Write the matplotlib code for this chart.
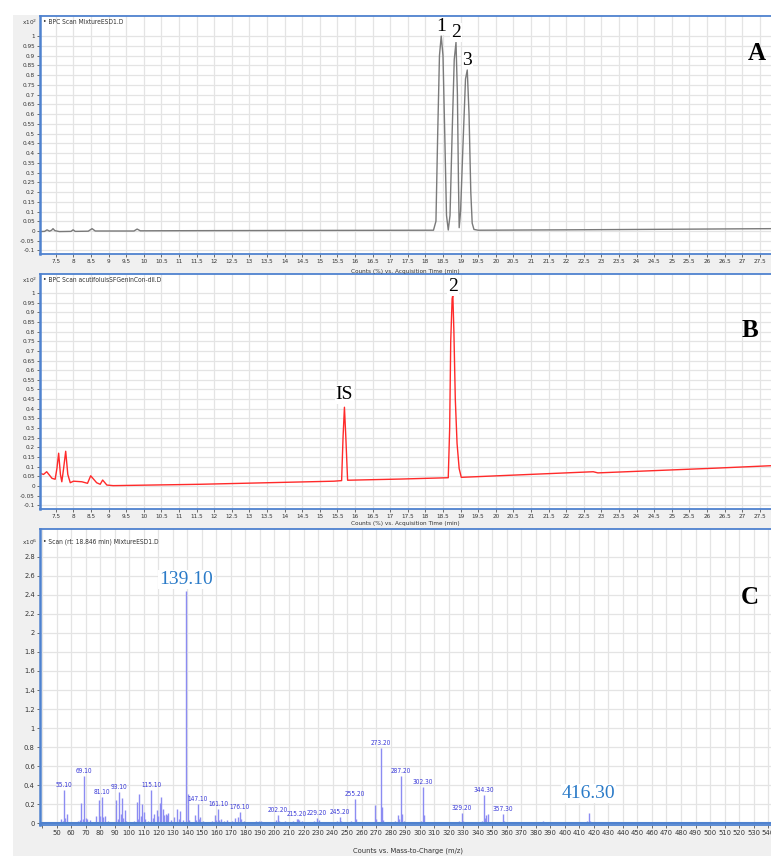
import numpy as np
import matplotlib
matplotlib.use("Agg")
import matplotlib.pyplot as plt
from matplotlib.patches import Rectangle
from matplotlib.ticker import FixedLocator, FuncFormatter

# ---- panel A: BPC of the standard mixture (time in min, counts x10^2 %) ----
a_time = [7.05, 7.18, 7.25, 7.32, 7.38, 7.42, 7.47, 7.6, 7.93, 7.99, 8.05,
          8.42, 8.53, 8.62, 9.2, 9.72, 9.81, 9.9, 12.0, 15.0, 18.1,
          18.23, 18.3, 18.35, 18.4, 18.45, 18.5, 18.55, 18.6, 18.65,
          18.7, 18.76, 18.82, 18.87, 18.91, 18.94, 18.96,
          19.0, 19.07, 19.14, 19.19, 19.24, 19.29, 19.33, 19.38, 19.5,
          22.0, 25.0, 27.8]
a_counts = [-0.003, -0.002, 0.006, -0.001, 0.004, 0.012, 0.002, -0.003, -0.002, 0.006, -0.002,
            -0.001, 0.012, 0.0, 0.0, 0.0, 0.01, 0.001, 0.002, 0.003, 0.004,
            0.004, 0.05, 0.5, 0.9, 1.0, 0.9, 0.5, 0.08, 0.005,
            0.08, 0.5, 0.88, 0.968, 0.7, 0.25, 0.017,
            0.1, 0.45, 0.78, 0.826, 0.6, 0.2, 0.04, 0.008, 0.004,
            0.006, 0.009, 0.012]

# ---- panel B: BPC of the plant extract ----
b_time = [7.05, 7.15, 7.24, 7.39, 7.48, 7.53, 7.58, 7.63, 7.67, 7.72, 7.78, 7.84, 7.91,
          8.0, 8.24, 8.4, 8.49, 8.66, 8.76, 8.83, 8.95, 9.13, 11.6,
          15.4, 15.62, 15.66, 15.7, 15.74, 15.79, 17.28, 18.65, 18.69, 18.72,
          18.76, 18.78, 18.81, 18.85, 18.9, 18.96, 19.02, 22.77, 22.9, 26.18, 27.8]
b_counts = [0.066, 0.06, 0.074, 0.04, 0.035, 0.09, 0.17, 0.06, 0.022, 0.09, 0.18, 0.06, 0.017,
            0.025, 0.022, 0.014, 0.053, 0.017, 0.009, 0.031, 0.005, 0.002, 0.009,
            0.025, 0.028, 0.25, 0.408, 0.25, 0.03, 0.036, 0.043, 0.3, 0.75,
            0.97, 0.99, 0.8, 0.45, 0.22, 0.09, 0.045, 0.074, 0.068, 0.092, 0.105]

# ---- panel C: mass spectrum at rt 18.846 min (m/z, counts x10^6) ----
c_mz = [51, 53, 54, 55.1, 56, 57, 58, 60, 63, 65, 66, 67, 68, 69.1, 70, 71, 73, 77, 78, 79,
        80, 81.1, 82, 83, 85, 89, 91, 92, 93.1, 94, 95, 96, 97, 98, 103, 105, 106, 107, 108,
        109, 110, 111, 113, 115.1, 116, 117, 119, 120, 121, 122, 123, 124, 125, 126, 127,
        129, 131, 133, 134, 135, 137, 139.1, 140.1, 141, 143, 145, 146, 147.1, 148, 149, 151,
        153, 157, 159, 160, 161.1, 162, 163, 165, 167, 171, 173, 175, 176.1, 177, 179, 185,
        187, 189, 191, 197, 201, 202.2, 203, 207, 213, 215.2, 216, 217, 219, 227, 229.2, 231,
        233, 243, 245.2, 246, 253, 255.2, 256, 269, 270, 273.2, 274, 275, 283, 285, 286,
        287.2, 288, 289, 301, 302.3, 303, 311, 313, 317, 327, 329.2, 330, 343, 344.3, 345,
        346, 347, 355, 357.3, 358, 369, 373, 385, 387, 401, 403, 405, 415, 416.3, 417, 428, 531]
c_counts = [0.02, 0.05, 0.03, 0.35, 0.06, 0.1, 0.02, 0.02, 0.02, 0.03, 0.04, 0.22, 0.05, 0.5,
            0.06, 0.05, 0.04, 0.08, 0.02, 0.25, 0.08, 0.28, 0.07, 0.08, 0.03, 0.02, 0.25, 0.05,
            0.33, 0.1, 0.27, 0.06, 0.14, 0.03, 0.03, 0.23, 0.05, 0.31, 0.08, 0.2, 0.12, 0.05,
            0.03, 0.35, 0.06, 0.1, 0.14, 0.08, 0.22, 0.28, 0.15, 0.09, 0.1, 0.09, 0.11, 0.04,
            0.07, 0.15, 0.05, 0.13, 0.04, 2.44, 0.31, 0.04, 0.02, 0.09, 0.04, 0.2, 0.05, 0.07,
            0.03, 0.02, 0.03, 0.09, 0.04, 0.15, 0.04, 0.05, 0.03, 0.04, 0.03, 0.06, 0.07, 0.12,
            0.05, 0.03, 0.02, 0.03, 0.03, 0.03, 0.02, 0.04, 0.09, 0.03, 0.03, 0.03, 0.05, 0.05,
            0.04, 0.03, 0.03, 0.06, 0.04, 0.02, 0.03, 0.07, 0.03, 0.03, 0.26, 0.05, 0.19, 0.05,
            0.79, 0.17, 0.04, 0.03, 0.09, 0.05, 0.5, 0.1, 0.03, 0.03, 0.38, 0.09, 0.02, 0.02,
            0.02, 0.03, 0.11, 0.03, 0.03, 0.3, 0.06, 0.09, 0.1, 0.02, 0.1, 0.03, 0.02, 0.01,
            0.03, 0.02, 0.02, 0.02, 0.02, 0.03, 0.11, 0.03, 0.02, 0.02]
c_small_labels = [55.1, 69.1, 81.1, 93.1, 115.1, 147.1, 161.1, 176.1, 202.2, 215.2, 229.2,
                  245.2, 255.2, 273.2, 287.2, 302.3, 329.2, 344.3, 357.3]
c_big_labels = [139.1, 416.3]

W, H = 771, 856
BLUE = "#4f82cf"
GRID = "#e4e4e4"
COND = dict(family="DejaVu Sans", stretch="condensed")

fig = plt.figure(figsize=(W / 100, H / 100), dpi=100)
fig.patches.append(Rectangle((13 / W, 0), 1, (H - 15) / H, transform=fig.transFigure,
                             facecolor="#f0f0f0", edgecolor="none", zorder=-5))


def axes_px(x0, y0, x1, y1):
    ax = fig.add_axes([x0 / W, 1 - y1 / H, (x1 - x0) / W, (y1 - y0) / H])
    ax.set_zorder(2)
    return ax


def fmt(v, pos):
    return f"{round(v, 3):g}"


def style(ax, xt, yt, fs):
    ax.set_facecolor("white")
    for s in ax.spines.values():
        s.set_color(BLUE)
        s.set_linewidth(1.3)
    ax.spines["right"].set_visible(False)
    ax.spines["left"].set_linewidth(1.8)
    ax.xaxis.set_major_locator(FixedLocator(xt))
    ax.yaxis.set_major_locator(FixedLocator(yt))
    ax.xaxis.set_major_formatter(FuncFormatter(fmt))
    ax.yaxis.set_major_formatter(FuncFormatter(fmt))
    ax.tick_params(length=2.5, width=0.6, color="#555555", pad=1.2, labelsize=fs,
                   labelcolor="#333333")
    ax.grid(True, color=GRID, lw=0.9)
    ax.set_axisbelow(True)


def cond_ticks(ax):
    for lab in ax.get_xticklabels() + ax.get_yticklabels():
        lab.set_family(COND["family"])
        lab.set_stretch(COND["stretch"])


def ftext(x, y, s, **kw):
    fig.text(x / W, 1 - y / H, s, zorder=5, **kw)


chrom_x = np.round(np.arange(7.5, 27.51, 0.5), 2)
chrom_y = np.round(np.arange(-0.1, 1.001, 0.05), 2)
box = dict(facecolor="white", edgecolor="none", pad=0.5)
serif = "Liberation Serif"

# panel A
axA = axes_px(40, 16, 771, 254)
axA.plot(a_time, a_counts, color="#7a7a7a", lw=1.0)
axA.set_xlim(7.05, 27.82)
axA.set_ylim(-0.118, 1.103)
style(axA, chrom_x, chrom_y, 4.6)
cond_ticks(axA)
ftext(37, 22, "x10$^{2}$", ha="right", va="center", fontsize=4.6, color="#333333", **COND)
ftext(43, 22, "\u2022 BPC Scan MixtureESD1.D", ha="left", va="center", fontsize=4.8,
      color="#333333", **COND)
ftext(405, 268.5, "Counts (%) vs. Acquisition Time (min)", ha="center", va="top",
      fontsize=4.6, color="#333333", **COND)
for num, t, yy in [("1", 18.45, 1.0), ("2", 18.87, 0.968), ("3", 19.19, 0.826)]:
    axA.annotate(num, (t, yy), xytext=(0, 1), textcoords="offset points", ha="center",
                 va="bottom", fontsize=14, family=serif, bbox=box, annotation_clip=False)
ftext(757, 53, "A", ha="center", va="center", fontsize=18, family=serif, weight="bold")

# panel B
axB = axes_px(40, 274, 771, 509)
axB.plot(b_time, b_counts, color="#ff2a2a", lw=1.0)
axB.set_xlim(7.05, 27.82)
axB.set_ylim(-0.119, 1.098)
style(axB, chrom_x, chrom_y, 4.6)
cond_ticks(axB)
ftext(37, 280, "x10$^{2}$", ha="right", va="center", fontsize=4.6, color="#333333", **COND)
ftext(43, 280, "\u2022 BPC Scan acutifoluisSFGeninCon-dil.D", ha="left", va="center",
      fontsize=4.8, color="#333333", **COND)
ftext(405, 521.5, "Counts (%) vs. Acquisition Time (min)", ha="center", va="top",
      fontsize=4.6, color="#333333", **COND)
axB.annotate("IS", (15.7, 0.408), xytext=(0, 3), textcoords="offset points", ha="center",
             va="bottom", fontsize=14, family=serif, bbox=box)
axB.annotate("2", (18.78, 0.99), xytext=(0, 0), textcoords="offset points", ha="center",
             va="bottom", fontsize=14, family=serif, bbox=box, annotation_clip=False)
ftext(750, 330, "B", ha="center", va="center", fontsize=18, family=serif, weight="bold")

# panel C
axC = axes_px(40, 529, 771, 825)
axC.vlines(c_mz, 0, c_counts, color="#8c8cf2", lw=1.0)
axC.axhline(0, color=BLUE, lw=1.5)
axC.set_xlim(38.5, 542)
axC.set_ylim(-0.016, 3.09)
style(axC, list(range(40, 541, 10)), np.round(np.arange(0, 2.81, 0.2), 1), 5.4)
axC.set_xticklabels([""] + [str(v) for v in range(50, 541, 10)])
cond_ticks(axC)
ftext(37, 542, "x10$^{6}$", ha="right", va="center", fontsize=4.6, color="#333333", **COND)
ftext(43, 542, "\u2022 Scan (rt: 18.846 min) MixtureESD1.D", ha="left", va="center",
      fontsize=4.8, color="#333333", **COND)
ftext(408, 851, "Counts vs. Mass-to-Charge (m/z)", ha="center", va="center",
      fontsize=5.4, color="#333333", **COND)
for m in c_small_labels:
    h = c_counts[c_mz.index(m)]
    axC.annotate(f"{m:.2f}", (m, h), xytext=(0, 1.5), textcoords="offset points", ha="center",
                 va="bottom", fontsize=4.7, color="#3b3bd8", **COND)
for m, off in zip(c_big_labels, [2, 8]):
    h = c_counts[c_mz.index(m)]
    axC.annotate(f"{m:.2f}", (m, h), xytext=(0, off), textcoords="offset points", ha="center",
                 va="bottom", fontsize=14, family=serif, color="#2b7bc8", bbox=box)
ftext(750, 597, "C", ha="center", va="center", fontsize=18, family=serif, weight="bold")

fig.savefig("out.png", dpi=100)
